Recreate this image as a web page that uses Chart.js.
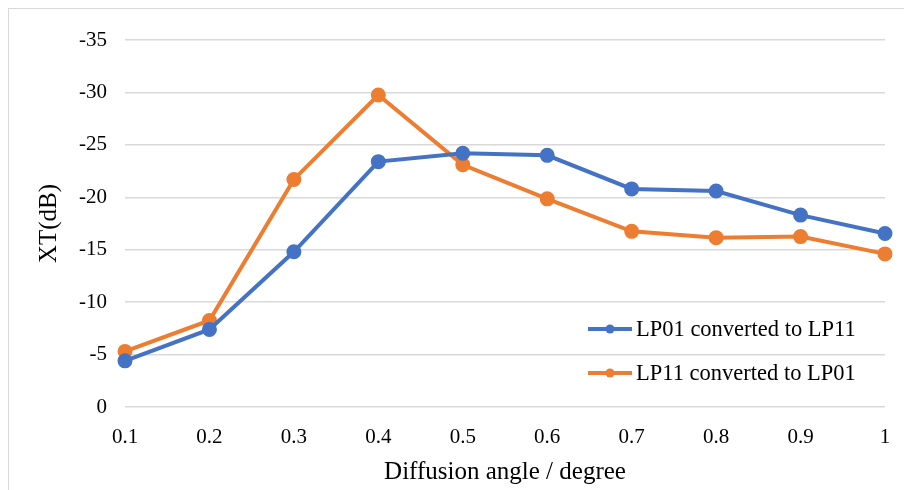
<!DOCTYPE html>
<html>
<head>
<meta charset="utf-8">
<script src="https://cdn.jsdelivr.net/npm/chart.js@4.4.1/dist/chart.umd.min.js"></script>
<style>
    html, body { margin: 0; padding: 0; background: #fff; }
    #wrap { position: relative; width: 904px; height: 490px; overflow: hidden; }
    #frame {
        position: absolute; left: 8px; top: 8px; width: 920px; height: 520px;
        border: 1px solid #d9d9d9; box-sizing: border-box;
    }
    canvas { position: absolute; left: 0; top: 0; }
</style>
</head>
<body>
<div id="wrap">
    <div id="frame"></div>
    <canvas id="xt-chart" width="904" height="490"></canvas>
</div>
<script>
// Crosstalk vs diffusion angle
const angles = ["0.1", "0.2", "0.3", "0.4", "0.5", "0.6", "0.7", "0.8", "0.9", "1"];
const lp01to11 = [-4.4, -7.4, -14.8, -23.4, -24.2, -24.0, -20.8, -20.6, -18.3, -16.55];
const lp11to01 = [-5.3, -8.25, -21.7, -29.75, -23.1, -19.85, -16.75, -16.15, -16.25, -14.6];
const seriesNames = ["LP01 converted to LP11", "LP11 converted to LP01"];

const BLUE = "#4472c4";
const ORANGE = "#ed7d31";
const FONT = "'Liberation Serif', 'Times New Roman', serif";

// legend drawn inside the plot, Excel-style (line + marker + label)
const insideLegend = {
    id: "insideLegend",
    afterDatasetsDraw(chart, args, opts) {
        const ctx = chart.ctx;
        ctx.save();
        chart.data.datasets.forEach((ds, i) => {
            const y = opts.y + i * opts.gap;
            ctx.strokeStyle = ds.borderColor;
            ctx.lineWidth = 4;
            ctx.beginPath();
            ctx.moveTo(opts.x, y);
            ctx.lineTo(opts.x + 44, y);
            ctx.stroke();
            ctx.fillStyle = ds.borderColor;
            ctx.beginPath();
            ctx.arc(opts.x + 22, y, 4.5, 0, Math.PI * 2);
            ctx.fill();
            ctx.fillStyle = "#000";
            ctx.font = "22.5px " + FONT;
            ctx.textBaseline = "middle";
            ctx.textAlign = "left";
            ctx.fillText(ds.label, opts.x + 48, y + 1);
        });
        ctx.restore();
    },
};

new Chart(document.getElementById("xt-chart").getContext("2d"), {
    type: "line",
    data: {
        labels: angles,
        datasets: [
            {
                label: seriesNames[0],
                data: lp01to11,
                borderColor: BLUE,
                backgroundColor: BLUE,
                borderWidth: 4,
                pointRadius: 5.5,
                pointHoverRadius: 5.5,
                tension: 0,
            },
            {
                label: seriesNames[1],
                data: lp11to01,
                borderColor: ORANGE,
                backgroundColor: ORANGE,
                borderWidth: 4,
                pointRadius: 5.5,
                pointHoverRadius: 5.5,
                tension: 0,
            },
        ],
    },
    options: {
        responsive: false,
        animation: false,
        layout: { padding: { left: 34, right: 19, top: 40, bottom: 0 } },
        plugins: {
            legend: { display: false },
            tooltip: { enabled: false },
            insideLegend: { x: 588, y: 329, gap: 44 },
        },
        scales: {
            x: {
                offset: false,
                grid: { display: false },
                border: { display: false },
                ticks: { color: "#000", font: { family: FONT, size: 21 }, padding: 10, maxRotation: 0 },
                title: {
                    display: true,
                    text: "Diffusion angle / degree",
                    color: "#000",
                    font: { family: FONT, size: 25 },
                    padding: { top: 6, bottom: 3 },
                },
                afterFit(scale) { scale.height = 83; },
            },
            y: {
                reverse: true,
                min: -35,
                max: 0,
                grid: { color: "#d9d9d9", lineWidth: 1.5, drawTicks: false },
                border: { display: false },
                ticks: { stepSize: 5, color: "#000", font: { family: FONT, size: 21 }, padding: 18 },
                title: {
                    display: true,
                    text: "XT(dB)",
                    color: "#000",
                    font: { family: FONT, size: 25 },
                    padding: 0,
                },
                afterFit(scale) { scale.width = 91; },
            },
        },
    },
    plugins: [insideLegend],
});
</script>
</body>
</html>
